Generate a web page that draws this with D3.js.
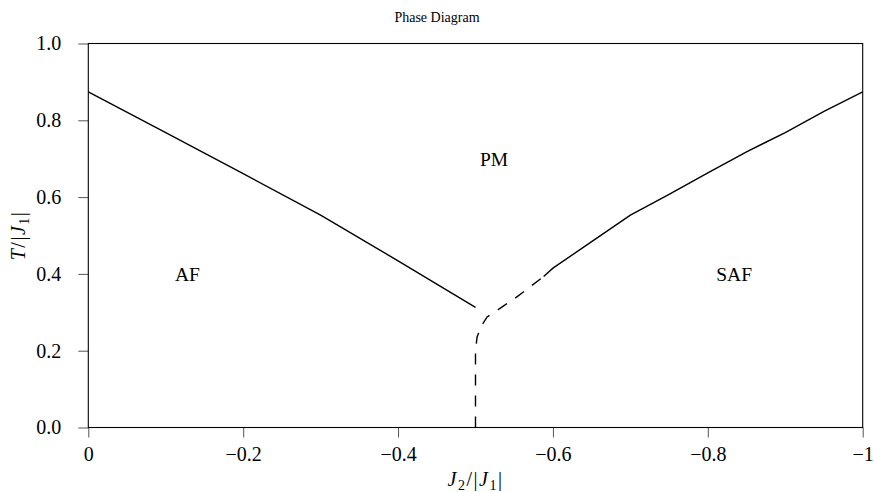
<!DOCTYPE html>
<html>
<head>
<meta charset="utf-8">
<script src="https://cdn.jsdelivr.net/npm/d3@7"></script>
<style>
  body { margin: 0; background: #fff; }
  text { font-family: "Liberation Serif", "DejaVu Serif", serif; fill: #000; }
</style>
</head>
<body>
<div id="chart"></div>
<script>
// Phase boundary data (J2/|J1|, T/|J1|)
var afBoundaryX = [0, -0.1, -0.2, -0.3, -0.4, -0.5];
var afBoundaryT = [0.874, 0.768, 0.661, 0.553, 0.434, 0.313];

var safBoundaryX = [-0.588, -0.6, -0.65, -0.7, -0.75, -0.8, -0.85, -0.9, -0.95, -1.0];
var safBoundaryT = [0.393, 0.415, 0.484, 0.553, 0.607, 0.663, 0.718, 0.768, 0.823, 0.874];

var dashedX = [-0.5, -0.5, -0.5, -0.502, -0.507, -0.515, -0.55, -0.588];
var dashedT = [0.0, 0.1, 0.2, 0.235, 0.263, 0.288, 0.335, 0.393];

var xTicks = [0, -0.2, -0.4, -0.6, -0.8, -1];
var xTickLabels = ["0", "\u22120.2", "\u22120.4", "\u22120.6", "\u22120.8", "\u22121"];
var yTicks = [0, 0.2, 0.4, 0.6, 0.8, 1.0];
var yTickLabels = ["0.0", "0.2", "0.4", "0.6", "0.8", "1.0"];

var phaseNames = ["AF", "PM", "SAF"];
var phaseX = [-0.128, -0.524, -0.834];
var phaseT = [0.4, 0.7, 0.4];

var svgWidth = 874;
var svgHeight = 492;

var margin = {
  top: 43.5,
  right: 11.3,
  bottom: 64.5,
  left: 88.3
}

var width = svgWidth - margin.left - margin.right;
var height = svgHeight - margin.top - margin.bottom;

var svg = d3.select("#chart")
  .append("svg")
  .attr("width", svgWidth)
  .attr("height", svgHeight);

var chartGroup = svg.append("g")
  .attr("transform", `translate(${margin.left}, ${margin.top})`);

// scales (x runs from 0 down to -1)
var xScale = d3.scaleLinear()
  .domain([0, -1])
  .range([0, width]);

var yScale = d3.scaleLinear()
  .domain([0, 1])
  .range([height, 0]);

// axes
var bottomAxis = d3.axisBottom(xScale)
  .tickValues(xTicks)
  .tickSize(10)
  .tickPadding(9)
  .tickFormat((d, i) => xTickLabels[i]);

var leftAxis = d3.axisLeft(yScale)
  .tickValues(yTicks)
  .tickSize(10)
  .tickPadding(17)
  .tickFormat((d, i) => yTickLabels[i]);

var xAxisG = chartGroup.append("g")
  .attr("transform", `translate(0, ${height})`)
  .call(bottomAxis);

var yAxisG = chartGroup.append("g")
  .call(leftAxis);

[xAxisG, yAxisG].forEach(function(g) {
  g.select(".domain").remove();
  g.selectAll(".tick line").attr("stroke", "#555").attr("stroke-width", 1);
  g.selectAll(".tick text")
    .style("font-family", "'Liberation Serif', serif")
    .style("font-size", "20px")
    .attr("fill", "#000");
});
yAxisG.selectAll(".tick text").attr("dy", "0.32em");
xAxisG.selectAll(".tick text").attr("dy", "0.71em");

// frame
chartGroup.append("rect")
  .attr("x", 0)
  .attr("y", 0)
  .attr("width", width)
  .attr("height", height)
  .attr("fill", "none")
  .attr("stroke", "#000")
  .attr("stroke-width", 1.1);

// lines
var line = d3.line()
  .x(d => xScale(d[0]))
  .y(d => yScale(d[1]));

chartGroup.append("path")
  .datum(d3.zip(afBoundaryX, afBoundaryT))
  .attr("d", line)
  .attr("fill", "none")
  .attr("stroke", "#000")
  .attr("stroke-width", 1.4);

chartGroup.append("path")
  .datum(d3.zip(safBoundaryX, safBoundaryT))
  .attr("d", line)
  .attr("fill", "none")
  .attr("stroke", "#000")
  .attr("stroke-width", 1.4);

chartGroup.append("path")
  .datum(d3.zip(dashedX, dashedT))
  .attr("d", line)
  .attr("fill", "none")
  .attr("stroke", "#000")
  .attr("stroke-width", 1.4)
  .attr("stroke-dasharray", "11,10");

// phase labels
chartGroup.append("g")
  .selectAll("text")
  .data(phaseNames)
  .enter()
  .append("text")
  .text(d => d)
  .attr("x", (d, i) => xScale(phaseX[i]))
  .attr("y", (d, i) => yScale(phaseT[i]))
  .attr("text-anchor", "middle")
  .attr("dy", "0.35em")
  .style("font-size", "19.5px");

// title, centred on the figure
svg.append("text")
  .attr("x", svgWidth / 2)
  .attr("y", 22)
  .attr("text-anchor", "middle")
  .style("font-size", "14px")
  .text("Phase Diagram");

// x label: J2/|J1|
var xLabel = svg.append("text")
  .attr("x", margin.left + width / 2)
  .attr("y", 486)
  .attr("text-anchor", "middle")
  .style("font-size", "20px")
  .style("letter-spacing", "1.5px");
xLabel.append("tspan").style("font-style", "italic").text("J");
xLabel.append("tspan").attr("dy", 4).style("font-size", "14px").text("2");
xLabel.append("tspan").attr("dy", -4).text("/|");
xLabel.append("tspan").style("font-style", "italic").text("J");
xLabel.append("tspan").attr("dy", 4).style("font-size", "14px").text("1");
xLabel.append("tspan").attr("dy", -4).text("|");

// y label: T/|J1|
var yLabel = svg.append("text")
  .attr("transform", `translate(25, ${margin.top + height / 2}) rotate(-90)`)
  .attr("text-anchor", "middle")
  .style("font-size", "20px")
  .style("letter-spacing", "1.5px");
yLabel.append("tspan").style("font-style", "italic").text("T");
yLabel.append("tspan").text("/|");
yLabel.append("tspan").style("font-style", "italic").text("J");
yLabel.append("tspan").attr("dy", 4).style("font-size", "14px").text("1");
yLabel.append("tspan").attr("dy", -4).text("|");
</script>
</body>
</html>
